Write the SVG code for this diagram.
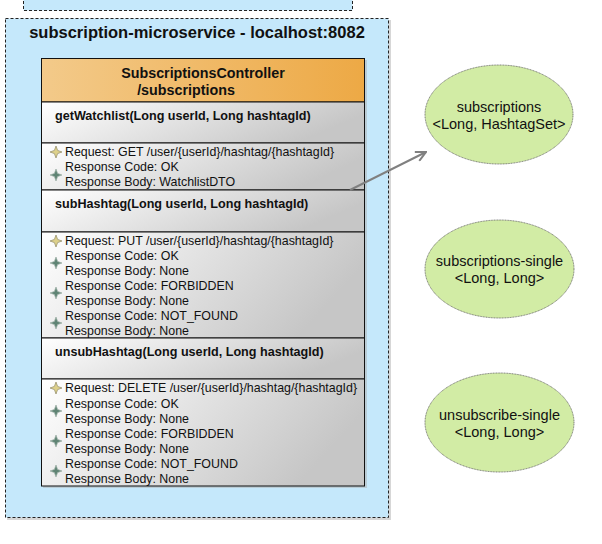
<svg xmlns="http://www.w3.org/2000/svg" width="602" height="544" viewBox="0 0 602 544">
  <defs>
    <linearGradient id="hdr" x1="0" y1="0" x2="1" y2="0">
      <stop offset="0" stop-color="#f3ca8a"/>
      <stop offset="1" stop-color="#eda945"/>
    </linearGradient>
    <linearGradient id="body" x1="0" y1="0" x2="1" y2="0.3">
      <stop offset="0" stop-color="#ffffff"/>
      <stop offset="1" stop-color="#c6c6c6"/>
    </linearGradient>
    <path id="star" d="M0,-6 L1.6,-1.6 L6,0 L1.6,1.6 L0,6 L-1.6,1.6 L-6,0 L-1.6,-1.6 Z"/>
    <marker id="arr" viewBox="0 0 12 12" refX="11" refY="6" markerWidth="12" markerHeight="12" markerUnits="userSpaceOnUse" orient="auto">
      <path d="M1,1 L11,6 L1,11" fill="none" stroke="#808080" stroke-width="2"/>
    </marker>
  </defs>
  <style>
    .cont { fill: #c5e8fb; stroke: #222; stroke-width: 1; stroke-dasharray: 3 2; }
    .shadow { fill: #b0b0b0; opacity: 0.5; }
    .title { font-family: "Liberation Sans", Arial, sans-serif; font-weight: bold; font-size: 16.5px; fill: #111; }
    .hdrtxt { font-family: "Liberation Sans", Arial, sans-serif; font-weight: bold; font-size: 14.3px; fill: #111; }
    .meth { font-family: "Liberation Sans", Arial, sans-serif; font-weight: bold; font-size: 12.6px; fill: #111; }
    .item { font-family: "Liberation Sans", Arial, sans-serif; font-size: 12.4px; fill: #111; }
    .sec { fill: url(#body); stroke: #111; stroke-width: 1; }
    .req { fill: #ddd08a; stroke: #8f8a66; stroke-width: 0.7; }
    .resp { fill: #5f8474; stroke: #9fb0a8; stroke-width: 0.7; }
    .ell { fill: #d2eca5; stroke: #555; stroke-width: 0.8; stroke-dasharray: 1 0.6; }
    .etxt { font-family: "Liberation Sans", Arial, sans-serif; font-size: 14.5px; fill: #111; text-anchor: middle; }
    .conn { stroke: #808080; stroke-width: 2; fill: none; }
  </style>

  <g id="top-container">
    <rect x="23.5" y="-10" width="329" height="20.5" class="cont"/>
  </g>

  <g id="subscription-microservice">
    <rect x="7" y="20" width="384" height="500" class="shadow"/>
    <rect x="5.5" y="18.5" width="383" height="499" class="cont"/>
    <text x="197" y="38" class="title" text-anchor="middle">subscription-microservice - localhost:8082</text>
  </g>

  <g id="SubscriptionsController">
    <rect x="43" y="60" width="324" height="428" class="shadow"/>
    <rect x="41.5" y="58.5" width="323" height="43.5" fill="url(#hdr)" stroke="#111" stroke-width="1"/>
    <text x="203" y="78" class="hdrtxt" text-anchor="middle">SubscriptionsController</text>
    <text x="186" y="95" class="hdrtxt" text-anchor="middle">/subscriptions</text>

    <rect x="41.5" y="102" width="323" height="41" class="sec"/>
    <text x="55" y="120" class="meth">getWatchlist(Long userId, Long hashtagId)</text>
    <rect x="41.5" y="143" width="323" height="47" class="sec"/>
    <use href="#star" x="56" y="152" class="req"/>
    <text x="65" y="156" class="item">Request: GET /user/{userId}/hashtag/{hashtagId}</text>
    <use href="#star" x="56" y="175" class="resp"/>
    <text x="65" y="171" class="item">Response Code: OK</text>
    <text x="65" y="186" class="item">Response Body: WatchlistDTO</text>

    <rect x="41.5" y="190" width="323" height="42" class="sec"/>
    <text x="55" y="208" class="meth">subHashtag(Long userId, Long hashtagId)</text>
    <rect x="41.5" y="232" width="323" height="106" class="sec"/>
    <use href="#star" x="56" y="241" class="req"/>
    <text x="65" y="245" class="item">Request: PUT /user/{userId}/hashtag/{hashtagId}</text>
    <use href="#star" x="56" y="263" class="resp"/>
    <text x="65" y="260" class="item">Response Code: OK</text>
    <text x="65" y="275" class="item">Response Body: None</text>
    <use href="#star" x="56" y="293" class="resp"/>
    <text x="65" y="290" class="item">Response Code: FORBIDDEN</text>
    <text x="65" y="305" class="item">Response Body: None</text>
    <use href="#star" x="56" y="323" class="resp"/>
    <text x="65" y="320" class="item">Response Code: NOT_FOUND</text>
    <text x="65" y="335" class="item">Response Body: None</text>

    <rect x="41.5" y="338" width="323" height="41" class="sec"/>
    <text x="55" y="356" class="meth">unsubHashtag(Long userId, Long hashtagId)</text>
    <rect x="41.5" y="379" width="323" height="107" class="sec"/>
    <use href="#star" x="56" y="388" class="req"/>
    <text x="65" y="392" class="item">Request: DELETE /user/{userId}/hashtag/{hashtagId}</text>
    <use href="#star" x="56" y="411" class="resp"/>
    <text x="65" y="408" class="item">Response Code: OK</text>
    <text x="65" y="423" class="item">Response Body: None</text>
    <use href="#star" x="56" y="441" class="resp"/>
    <text x="65" y="438" class="item">Response Code: FORBIDDEN</text>
    <text x="65" y="453" class="item">Response Body: None</text>
    <use href="#star" x="56" y="471" class="resp"/>
    <text x="65" y="468" class="item">Response Code: NOT_FOUND</text>
    <text x="65" y="483" class="item">Response Body: None</text>
  </g>

  <g id="subscriptions">
    <ellipse cx="499" cy="114.5" rx="74" ry="49.5" class="ell"/>
    <text x="499" y="112" class="etxt">subscriptions</text>
    <text x="499" y="129" class="etxt">&lt;Long, HashtagSet&gt;</text>
  </g>

  <g id="subscriptions-single">
    <ellipse cx="499.5" cy="269" rx="74.5" ry="49" class="ell"/>
    <text x="499.5" y="266" class="etxt">subscriptions-single</text>
    <text x="499.5" y="283" class="etxt">&lt;Long, Long&gt;</text>
  </g>

  <g id="unsubscribe-single">
    <ellipse cx="499.5" cy="422.5" rx="74.5" ry="49.5" class="ell"/>
    <text x="499.5" y="420" class="etxt">unsubscribe-single</text>
    <text x="499.5" y="437" class="etxt">&lt;Long, Long&gt;</text>
  </g>

  <g id="connectors">
    <line x1="350" y1="190" x2="426" y2="152" class="conn" marker-end="url(#arr)"/>
  </g>
</svg>
